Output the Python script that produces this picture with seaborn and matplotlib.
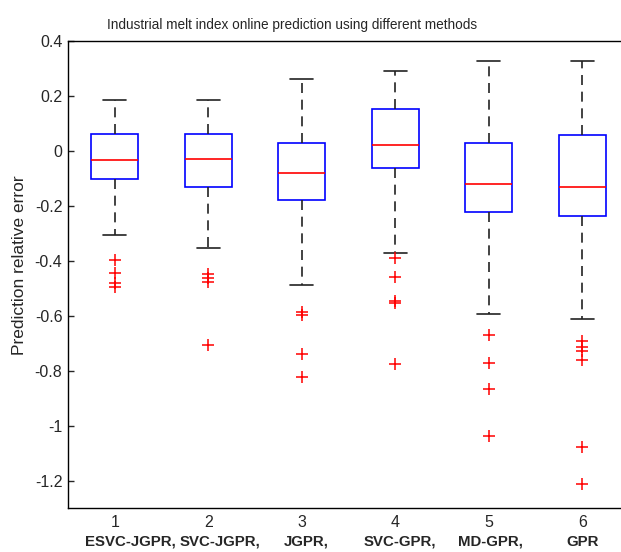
import numpy as np
import pandas as pd
import seaborn as sns
import matplotlib.pyplot as plt

# box statistics (prediction relative error)
methods = ['1', '2', '3', '4', '5', '6']
method_names = ['ESVC-JGPR,', 'SVC-JGPR,', 'JGPR,', 'SVC-GPR,', 'MD-GPR,', 'GPR']
q1 = [-0.102, -0.130, -0.180, -0.063, -0.221, -0.237]
median = [-0.032, -0.028, -0.082, 0.021, -0.122, -0.130]
q3 = [0.062, 0.062, 0.028, 0.151, 0.030, 0.057]
whisker_low = [-0.305, -0.355, -0.487, -0.372, -0.592, -0.613]
whisker_high = [0.186, 0.186, 0.262, 0.290, 0.326, 0.326]
outliers = [
    [-0.396, -0.444, -0.480, -0.495],
    [-0.448, -0.463, -0.478, -0.708],
    [-0.585, -0.599, -0.740, -0.822],
    [-0.391, -0.458, -0.546, -0.555, -0.775],
    [-0.672, -0.771, -0.868, -1.038],
    [-0.692, -0.715, -0.727, -0.763, -1.079, -1.212],
]

# rebuild a sample per method whose quartiles / whiskers / fliers match the stats
rows = []
for i, m in enumerate(methods):
    k = len(outliers[i]) + 1
    sample = (outliers[i] + [whisker_low[i]] + [q1[i]] * k + [median[i]]
              + [q3[i]] * k + [whisker_high[i]] * k)
    rows += [(m, v) for v in sample]
df = pd.DataFrame(rows, columns=['method', 'error'])

sns.set_style('white')
plt.rcParams['font.family'] = ['Liberation Sans', 'DejaVu Sans']

fig = plt.figure(figsize=(6.21, 5.52), dpi=100)
ax = fig.add_axes([0.1095, 0.0797, 0.9034, 0.846])

sns.boxplot(data=df, x='method', y='error', order=methods, width=0.5, ax=ax,
            linewidth=1.2,
            boxprops=dict(facecolor='white', edgecolor='blue'),
            medianprops=dict(color='red'),
            whiskerprops=dict(color='#222222', linestyle=(0, (6, 4))),
            capprops=dict(color='#222222'),
            flierprops=dict(marker='+', markeredgecolor='red', markersize=8,
                            markeredgewidth=1.1))

ax.set_xlim(-0.5, 5.5)
ax.set_ylim(-1.3, 0.4)
ax.set_yticks(np.arange(-1.2, 0.41, 0.2))
ax.set_yticklabels(['-1.2', '-1', '-0.8', '-0.6', '-0.4', '-0.2', '0', '0.2', '0.4'])
ax.tick_params(axis='y', direction='in', length=4, width=1, pad=4, labelsize=11.5,
               left=True, right=True)
ax.tick_params(axis='x', length=0, pad=5, labelsize=11.5)
ax.set_xlabel('')
ax.set_ylabel('Prediction relative error', fontsize=12.5)
ax.yaxis.set_label_coords(-0.073, 0.52)
ax.set_title('Industrial melt index online prediction using different methods',
             fontsize=9.8, x=0.4, pad=9)
for spine in ax.spines.values():
    spine.set_color('black')
    spine.set_linewidth(1.0)

name_shift = [0.17, 0.13, 0.05, 0.05, 0.02, 0.0]
for i, name in enumerate(method_names):
    ax.text(i + name_shift[i], -0.081, name, transform=ax.get_xaxis_transform(),
            ha='center', va='baseline', fontsize=10.8, fontweight='bold')

fig.savefig('out.png', dpi=100)
